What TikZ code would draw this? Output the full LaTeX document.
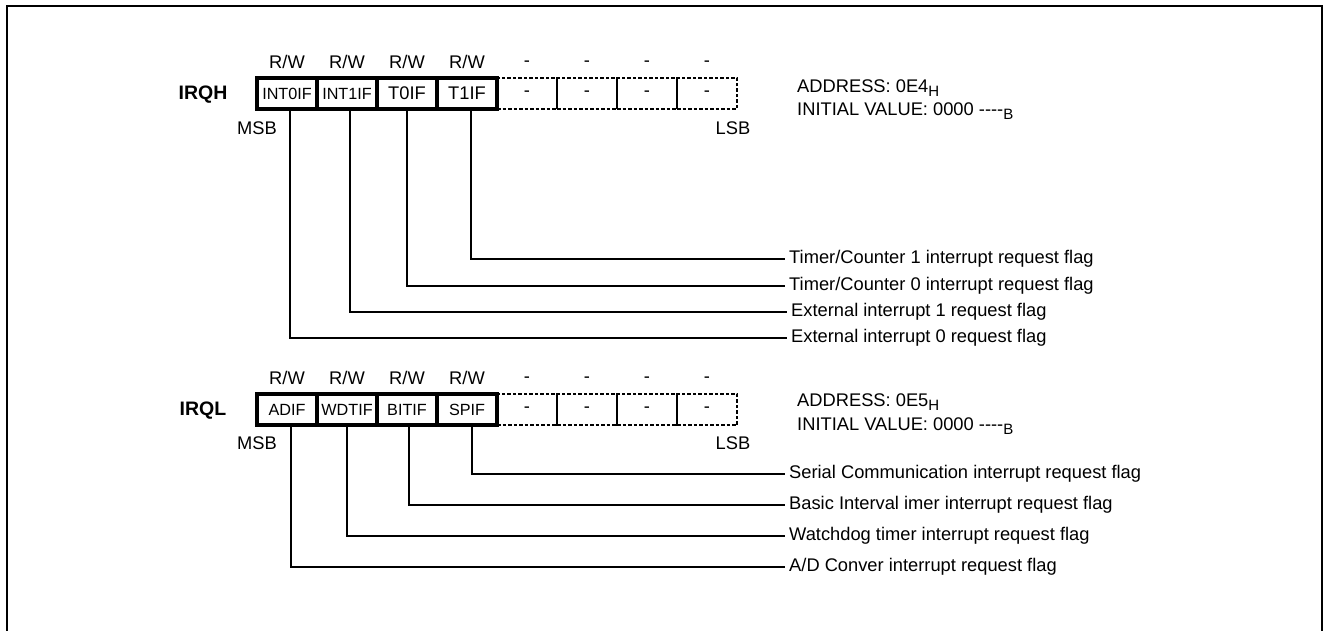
\documentclass[tikz,border=0pt]{standalone}
\usepackage{fontspec}
\setmainfont{Liberation Sans}
\newcommand\mysub[1]{\raisebox{-4pt}{\fontsize{15}{15}\selectfont #1}}
\begin{document}
\begin{tikzpicture}[x=1pt,y=-1pt,
  txt/.style={font=\fontsize{18.3}{22}\selectfont, inner sep=0pt, text height=13pt, text depth=4pt},
  small/.style={font=\fontsize{16.2}{20}\selectfont, inner sep=0pt},
  big/.style={font=\fontsize{18.3}{22}\selectfont, inner sep=0pt},
  regname/.style={font=\bfseries\fontsize{19.5}{22}\selectfont, inner sep=0pt},
  solidcell/.style={draw=black, line width=3.2pt, minimum width=60pt, minimum height=31pt, inner sep=0pt},
  dashcell/.style={draw=black, line width=2.4pt, dash pattern=on 3.5pt off 2pt, minimum width=60pt, minimum height=31pt, inner sep=0pt, font=\fontsize{18.3}{22}\selectfont},
  conn/.style={draw=black, line width=1.5pt, shorten >=4pt},
  lbl/.style={txt, anchor=west}
]
\useasboundingbox (0,0) rectangle (1323,631);
\draw[line width=2.2pt] (7,631) -- (7,6) -- (1322,6) -- (1322,631);

% ---------------- IRQH ----------------
\node[regname] (irqh) at (203,95) {IRQH};
\foreach \i/\x in {1/287,2/347,3/407,4/467}{
  \node[txt] (hrw\i) at (\x,64) {R/W};
}
\foreach \i/\x in {5/527,6/587,7/647,8/707}{
  \node[txt] (hrw\i) at (\x,62) {-};
}
\node[dashcell] (h5) at (527,93.5) {-};
\node[dashcell] (h6) at (587,93.5) {-};
\node[dashcell] (h7) at (647,93.5) {-};
\node[dashcell] (h8) at (707,93.5) {-};
\node[solidcell, small] (h1) at (287,93.5) {INT0IF};
\node[solidcell, small] (h2) at (347,93.5) {INT1IF};
\node[solidcell, big] (h3) at (407,93.5) {T0IF};
\node[solidcell, big] (h4) at (467,93.5) {T1IF};
\node[txt] (hmsb) at (257,130) {MSB};
\node[txt] (hlsb) at (733,130) {LSB};
\node[txt, anchor=west] (haddr) at (797,88) {ADDRESS: 0E4\mysub{H}};
\node[txt, anchor=west] (hinit) at (797,111) {INITIAL VALUE: 0000 -{}-{}-{}-\mysub{B}};

\node[lbl] (lh4) at (789,259) {Timer/Counter 1 interrupt request flag};
\node[lbl] (lh3) at (789,286) {Timer/Counter 0 interrupt request flag};
\node[lbl] (lh2) at (791,312) {External interrupt 1 request flag};
\node[lbl] (lh1) at (791,338) {External interrupt 0 request flag};
\draw[conn] ([xshift=3pt]h1.south) |- (lh1.west);
\draw[conn] ([xshift=3pt]h2.south) |- (lh2.west);
\draw[conn] (h3.south) |- (lh3.west);
\draw[conn] ([xshift=4pt]h4.south) |- (lh4.west);

% ---------------- IRQL ----------------
\node[regname] (irql) at (203,411) {IRQL};
\foreach \i/\x in {1/287,2/347,3/407,4/467}{
  \node[txt] (lrw\i) at (\x,380) {R/W};
}
\foreach \i/\x in {5/527,6/587,7/647,8/707}{
  \node[txt] (lrw\i) at (\x,378) {-};
}
\node[dashcell] (l5) at (527,409.5) {-};
\node[dashcell] (l6) at (587,409.5) {-};
\node[dashcell] (l7) at (647,409.5) {-};
\node[dashcell] (l8) at (707,409.5) {-};
\node[solidcell, small] (l1) at (287,409.5) {ADIF};
\node[solidcell, small] (l2) at (347,409.5) {WDTIF};
\node[solidcell, small] (l3) at (407,409.5) {BITIF};
\node[solidcell, small] (l4) at (467,409.5) {SPIF};
\node[txt] (lmsb) at (257,445) {MSB};
\node[txt] (llsb) at (733,445) {LSB};
\node[txt, anchor=west] (laddr) at (797,402) {ADDRESS: 0E5\mysub{H}};
\node[txt, anchor=west] (linit) at (797,426) {INITIAL VALUE: 0000 -{}-{}-{}-\mysub{B}};

\node[lbl] (ll4) at (789,474) {Serial Communication interrupt request flag};
\node[lbl] (ll3) at (789,505) {Basic Interval imer interrupt request flag};
\node[lbl] (ll2) at (789,536) {Watchdog timer interrupt request flag};
\node[lbl] (ll1) at (789,567) {A/D Conver interrupt request flag};
\draw[conn] ([xshift=4pt]l1.south) |- (ll1.west);
\draw[conn] (l2.south) |- (ll2.west);
\draw[conn] ([xshift=2pt]l3.south) |- (ll3.west);
\draw[conn] ([xshift=5pt]l4.south) |- (ll4.west);
\end{tikzpicture}
\end{document}
